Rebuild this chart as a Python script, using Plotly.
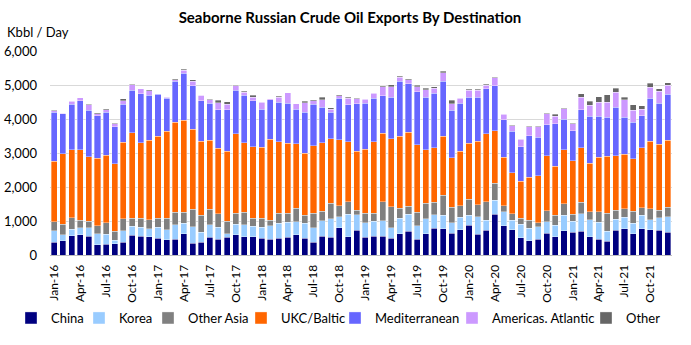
import plotly.graph_objects as go

months = [f"{m}-{y}" for y in ["16", "17", "18", "19", "20", "21"]
          for m in ["Jan", "Feb", "Mar", "Apr", "May", "Jun", "Jul", "Aug", "Sep", "Oct", "Nov", "Dec"]]

china = [380, 420, 570, 590, 555, 300, 320, 335, 370, 575, 555, 540,
         500, 450, 460, 625, 350, 380, 520, 460, 520, 595, 530, 540,
         490, 470, 490, 520, 595, 490, 380, 555, 520, 800, 540, 725,
         520, 550, 550, 500, 625, 695, 470, 625, 790, 775, 645, 745,
         880, 615, 725, 1195, 860, 745, 510, 420, 460, 645, 530, 715,
         675, 695, 540, 470, 400, 725, 775, 625, 775, 745, 725, 665]
korea = [330, 170, 190, 205, 250, 320, 285, 105, 340, 265, 255, 225,
         310, 300, 430, 315, 480, 285, 370, 350, 110, 315, 360, 300,
         320, 390, 450, 440, 390, 440, 420, 450, 540, 330, 655, 460,
         430, 440, 460, 300, 460, 500, 390, 440, 400, 400, 305, 360,
         285, 510, 300, 420, 410, 275, 390, 360, 370, 340, 340, 450,
         325, 520, 500, 490, 295, 320, 340, 305, 390, 285, 370, 460]
other_asia = [270, 320, 340, 230, 190, 240, 350, 265, 350, 235, 265, 265,
              265, 335, 370, 320, 510, 500, 450, 400, 360, 320, 370, 245,
              265, 165, 285, 275, 390, 245, 430, 285, 460, 315, 370, 135,
              275, 235, 550, 615, 295, 245, 400, 460, 360, 585, 460, 340,
              480, 350, 540, 500, 175, 195, 185, 245, 125, 315, 305, 340,
              205, 340, 235, 315, 530, 265, 245, 360, 225, 330, 215, 275]
ukc_baltic = [1780, 2070, 1990, 2070, 1900, 1990, 1975, 1980, 2250, 2515, 2220, 2345,
              2415, 2560, 2640, 2700, 2355, 2180, 2035, 1935, 2055, 2330, 2035, 2095,
              2100, 2375, 2110, 2045, 1900, 1820, 1985, 2005, 1905, 1945, 1760, 1730,
              1885, 2100, 2015, 2005, 2110, 2170, 1985, 1575, 1605, 1730, 1450, 1605,
              1640, 1870, 1995, 1545, 1430, 1200, 1085, 1260, 1380, 1625, 1440, 1585,
              1565, 1605, 1430, 1605, 1680, 1615, 1605, 1535, 1760, 1985, 1945, 1975]
mediterranean = [1440, 1175, 1350, 1440, 1360, 1250, 1270, 1080, 1125, 1260, 1455, 1330,
                 1240, 960, 1210, 1390, 1280, 1195, 1095, 1125, 1230, 1290, 1410, 1360,
                 1115, 1165, 1165, 1185, 1005, 1210, 1220, 1055, 780, 1220, 1095, 1400,
                 1350, 1280, 1115, 1220, 1625, 1430, 1555, 1545, 1605, 1615, 1400, 1420,
                 1360, 1300, 1330, 1320, 1105, 1220, 1015, 1220, 1135, 910, 1240, 910,
                 880, 1115, 1370, 1195, 1145, 1420, 1085, 1075, 940, 1270, 1215, 1360]
americas_atlantic = [40, 20, 75, 85, 165, 60, 70, 95, 105, 155, 135, 120,
                     10, 40, 50, 80, 130, 155, 95, 215, 165, 125, 80, 105,
                     205, 30, 145, 300, 165, 275, 100, 215, 80, 70, 185, 145,
                     125, 155, 255, 315, 115, 115, 155, 215, 145, 255, 195, 145,
                     195, 195, 110, 235, 155, 165, 215, 265, 300, 315, 225, 295,
                     215, 370, 335, 420, 440, 440, 510, 360, 195, 325, 350, 265]
other = [15, 5, 25, 10, 20, 30, 30, 10, 50, 10, 10, 40,
         5, 5, 30, 30, 50, 10, 20, 70, 70, 20, 30, 50,
         10, 5, 30, 10, 10, 40, 30, 70, 50, 40, 30, 10,
         10, 15, 30, 50, 30, 30, 40, 40, 50, 50, 90, 15,
         30, 30, 20, 15, 20, 15, 15, 15, 15, 15, 60, 15,
         15, 100, 105, 155, 225, 115, 80, 155, 100, 115, 70, 60]

series = [
    ("China", china, "#000080"),
    ("Korea", korea, "#99CCFF"),
    ("Other Asia", other_asia, "#808080"),
    ("UKC/Baltic", ukc_baltic, "#FF6600"),
    ("Mediterranean", mediterranean, "#6666FF"),
    ("Americas. Atlantic", americas_atlantic, "#CC99FF"),
    ("Other", other, "#666666"),
]

tick_labels = months[::3]

W, H = 691, 345
ML, MR, MT, MB = 50, 19, 51, 90
PW, PH = W - ML - MR, H - MT - MB
FONT = "Lato, Open Sans, sans-serif"

# legend text start positions (pixels) of the reference layout
legend_text_x = [53, 121, 190, 283, 377, 494, 628]

fig = go.Figure()
layout_legends = {}
for i, (name, vals, color) in enumerate(series):
    key = f"legend{i + 2}"
    fig.add_trace(go.Bar(x=months, y=vals, name=name, legend=key, showlegend=True,
                         marker=dict(color=color,
                                     line=dict(width=0.5, color="rgba(255,255,255,0.7)"))))
    layout_legends[key] = dict(
        orientation="h", x=(legend_text_x[i] - 42 - ML) / PW, xanchor="left",
        y=(H - MB - 318) / PH, yanchor="middle",
        font=dict(size=13, family=FONT), itemwidth=30,
        bgcolor="rgba(0,0,0,0)")

fig.update_layout(
    width=W, height=H,
    showlegend=True,
    margin=dict(l=ML, r=MR, t=MT, b=MB, autoexpand=False),
    barmode="stack", bargap=0.3,
    paper_bgcolor="white", plot_bgcolor="white",
    font=dict(family=FONT, size=12, color="#000000"),
    title=dict(text="<b>Seaborne Russian Crude Oil Exports By Destination</b>",
               x=350 / W, xanchor="center", y=1 - 18 / H, yanchor="middle",
               font=dict(size=15, family=FONT, color="#000000")),
    xaxis=dict(type="category", categoryorder="array", categoryarray=months,
               tickmode="array", tickvals=tick_labels, ticktext=tick_labels,
               tickangle=-90, showgrid=False, showline=True, linecolor="#BFBFBF",
               linewidth=1, ticks="", range=[-0.5, 71.5], tickfont=dict(size=12),
               ticklabelstandoff=4, automargin=False),
    yaxis=dict(range=[0, 6000], dtick=1000, tickformat=",d", showgrid=True,
               gridcolor="#D9D9D9", gridwidth=1, zeroline=False, showline=False,
               ticks="", tickfont=dict(size=13), ticklabelstandoff=12, automargin=False),
    annotations=[dict(text="Kbbl / Day", xref="paper", yref="paper",
                      x=(5 - ML) / PW, xanchor="left",
                      y=(H - MB - 32) / PH, yanchor="middle",
                      showarrow=False, font=dict(size=13, family=FONT))],
    **layout_legends,
)

fig.write_html("out.html")
